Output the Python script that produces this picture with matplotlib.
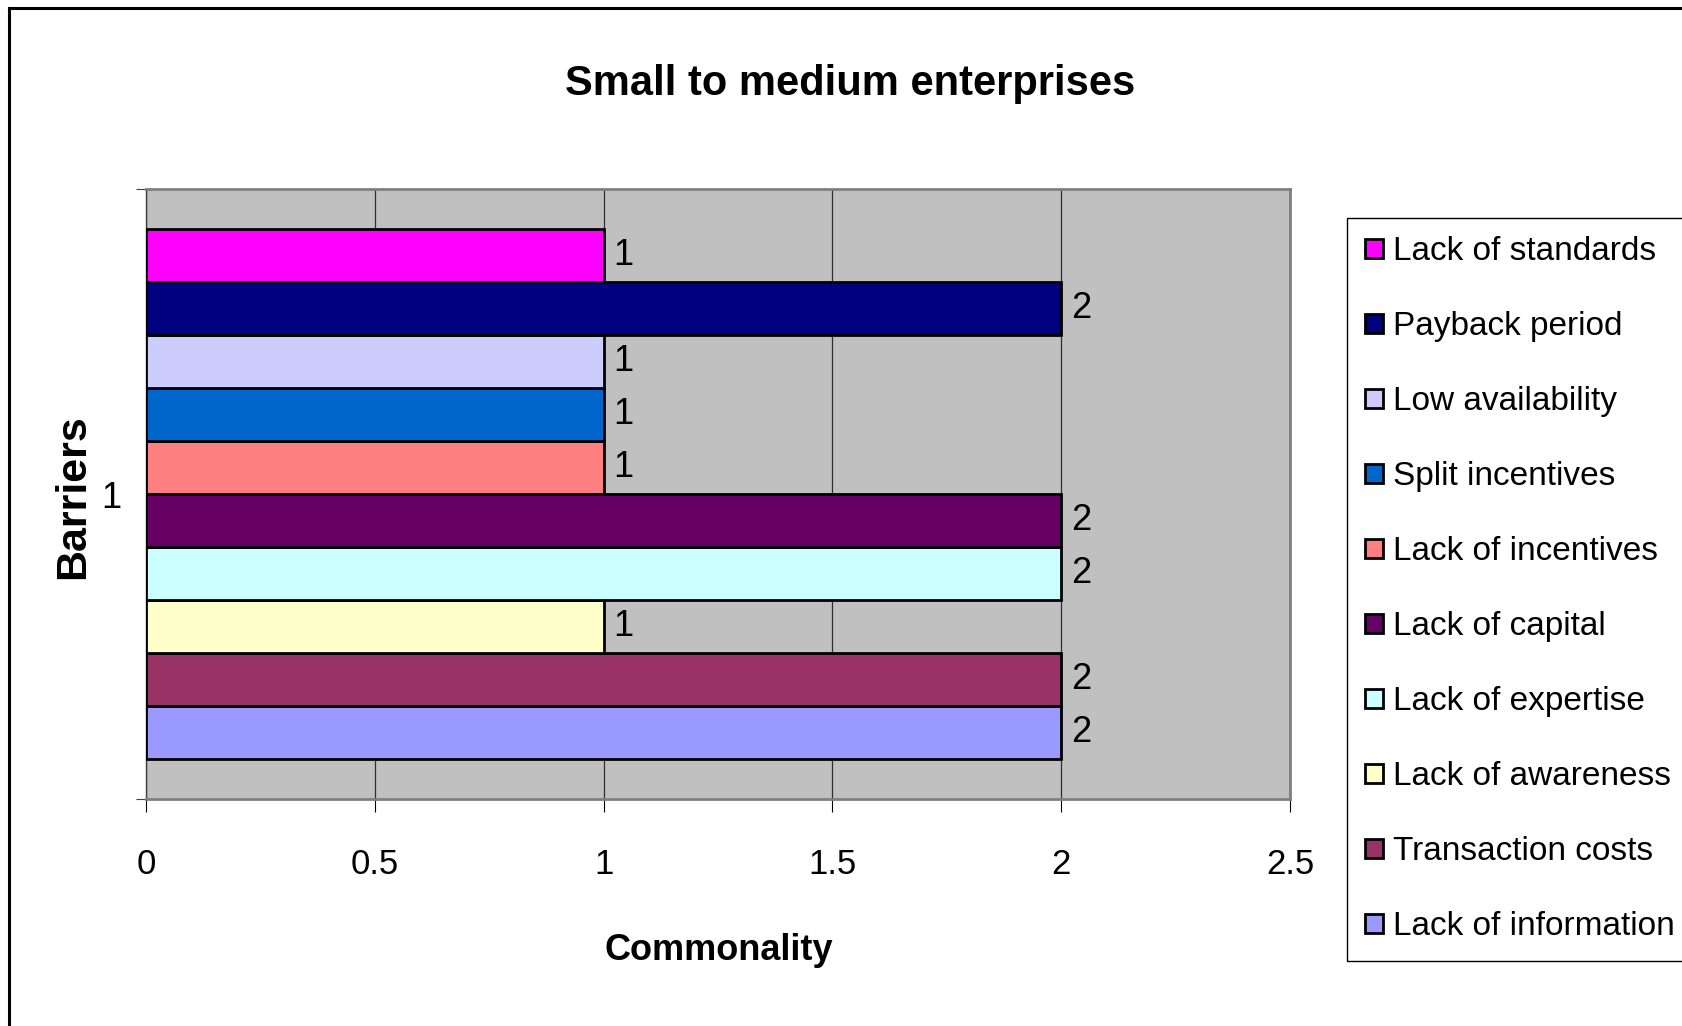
import matplotlib
matplotlib.use("Agg")
import matplotlib.pyplot as plt
from matplotlib.lines import Line2D
from matplotlib.ticker import FixedLocator

plt.rcParams['font.family'] = ['Liberation Sans', 'DejaVu Sans']

# data, bottom bar first
barriers = ['Lack of information', 'Transaction costs', 'Lack of awareness',
            'Lack of expertise', 'Lack of capital', 'Lack of incentives',
            'Split incentives', 'Low availability', 'Payback period',
            'Lack of standards']
commonality = [2, 2, 1, 2, 2, 1, 1, 1, 2, 1]
colors = ['#9999FF', '#993366', '#FFFFCC', '#CCFFFF', '#660066',
          '#FF8080', '#0066CC', '#CCCCFF', '#000080', '#FF00FF']
category = 1
xticks = [0, 0.5, 1, 1.5, 2, 2.5]

W, H = 1682, 1026
fig = plt.figure(figsize=(W / 100, H / 100), dpi=100)
ax = fig.add_axes([146 / W, 1 - 799 / H, 1144 / W, 610 / H])
ax.set_facecolor('#C0C0C0')

n = len(barriers)
h = 0.0869
handles = []
for i, (name, val, col) in enumerate(zip(barriers, commonality, colors)):
    y = category - n * h / 2 + (i + 0.5) * h
    b = ax.barh(y, val, height=h, color=col, edgecolor='black', linewidth=2,
                label=name, zorder=3)
    handles.append(b)
    ax.text(val + 0.022, y, str(val), ha='left', va='center', fontsize=26, zorder=4)

ax.set_xlim(0, 2.5)
ax.set_ylim(category - 0.5, category + 0.5)
ax.set_xticks(xticks)
ax.set_xticklabels(['0', '0.5', '1', '1.5', '2', '2.5'], fontsize=25)
ax.tick_params(axis='x', direction='out', length=9.5, width=0.8, pad=26, color='black')
ax.set_yticks([category])
ax.set_yticklabels(['1'], fontsize=26)
ax.yaxis.set_minor_locator(FixedLocator([category - 0.5, category + 0.5]))
ax.tick_params(axis='y', which='major', length=0, pad=18)
ax.tick_params(axis='y', which='minor', length=7, width=0.8, color='#404040')

ax.grid(axis='x', color='#303030', linewidth=0.9)
ax.set_axisbelow(True)

for side in ['top', 'right', 'bottom']:
    ax.spines[side].set_color('#808080')
    ax.spines[side].set_linewidth(2)
ax.spines['left'].set_color('#404040')
ax.spines['left'].set_linewidth(1)

ax.set_xlabel('Commonality', fontsize=26, fontweight='bold')
ax.xaxis.label.set_va('center')
ax.xaxis.set_label_coords(0.501, -(951 - 799) / 610)
ax.set_ylabel('Barriers', fontsize=31, fontweight='bold')
ax.yaxis.label.set_va('center')
ax.yaxis.set_label_coords(-(146 - 73) / 1144, 0.495)

fig.text(850 / W, 1 - 84 / H, 'Small to medium enterprises', ha='center', va='center',
         fontsize=30, fontweight='bold')

leg = fig.legend(handles[::-1], barriers[::-1], loc='upper left',
                 bbox_to_anchor=(1347 / W, 1 - 218 / H), bbox_transform=fig.transFigure,
                 fontsize=24, frameon=True, fancybox=False, framealpha=1,
                 edgecolor='black', borderpad=0.55, labelspacing=1.32,
                 handlelength=0.52, handleheight=0.52, handletextpad=0.3,
                 borderaxespad=0)
leg.get_frame().set_linewidth(1)

# outer chart frame (top and left edges visible)
fig.add_artist(Line2D([9 / W, 9 / W], [0, 1 - 8 / H], transform=fig.transFigure,
                      color='black', linewidth=2.2))
fig.add_artist(Line2D([9 / W, 1], [1 - 8 / H, 1 - 8 / H], transform=fig.transFigure,
                      color='black', linewidth=2.2))

fig.savefig('out.png', dpi=100)
